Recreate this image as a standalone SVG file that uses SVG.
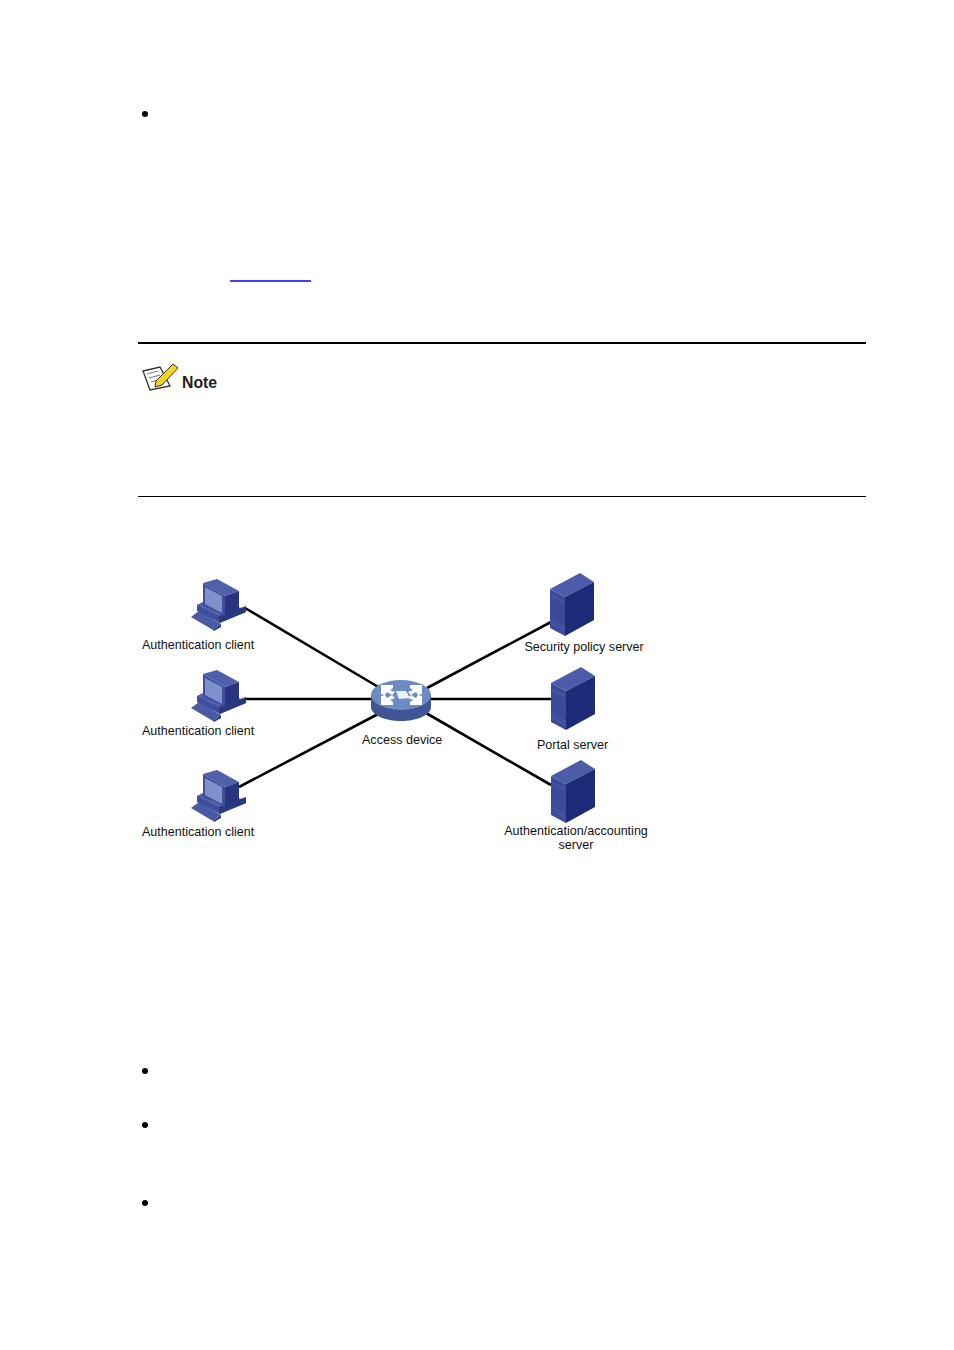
<svg xmlns="http://www.w3.org/2000/svg" width="954" height="1350" viewBox="0 0 954 1350">
<style>
.t{font-family:"Liberation Sans",Arial,sans-serif;font-size:12.55px;fill:#111}
.c{stroke:#000;stroke-width:2.6;fill:none}
</style>
<defs>
<g id="pc">
<path d="M191 617L199 611L221 624L213 630Z" fill="#4a5ba6"/>
<path d="M213 630L221 624L221 627L214 631Z" fill="#2c3a85"/>
<path d="M197 605L207 600L246 609L246 612L220 623L197 611Z" fill="#3f4f9e"/>
<path d="M197 605L207 601L232 610L219 616Z" fill="#5364ad"/>
<path d="M219 616L246 606L246 612L219 623Z" fill="#2b387f"/>
<path d="M203 583L217 579L239 591L225 596Z" fill="#4f60ab"/>
<path d="M203 583L225 596L225 616L203 606Z" fill="#3f4f9e"/>
<path d="M225 596L239 591L239 608L225 616Z" fill="#28367f"/>
<path d="M205 587L222 596L222 613L205 604Z" fill="#8090cd"/>
</g>
<g id="srv">
<path d="M550 589L580 573L594 582L565 597Z" fill="#4c5ca8"/>
<path d="M550 589L565 597L565 636L550 628Z" fill="#3a4b9c"/>
<path d="M565 597L594 582L594 620L565 636Z" fill="#1d2a78"/>
<path d="M550 595L565 603M550 620L565 628M550 623L565 631" stroke="#5a6ab2" stroke-width=".7" fill="none"/>
</g>
</defs>
<g id="page-marks">
<circle cx="145" cy="114" r="3" fill="#000"/>
<path d="M230 281H311" stroke="#0000ff" stroke-width="1.6"/>
<path d="M138 343H866" stroke="#000" stroke-width="2"/>
<path d="M138 496.500H866" stroke="#000" stroke-width="1"/>
<circle cx="145" cy="1071" r="3" fill="#000"/>
<circle cx="145" cy="1125" r="3" fill="#000"/>
<circle cx="145" cy="1203" r="3" fill="#000"/>
</g>
<g id="note">
<path d="M143 371L160 367L170 386L150 390Z" fill="#fff" stroke="#333" stroke-width="1.3"/>
<path d="M147 374L158 371M149 378L160 375M151 382L158 380" stroke="#777" stroke-width="1"/>
<path d="M156 381L173 364L178 368L162 385L155 387Z" fill="#f4d61c" stroke="#333" stroke-width="1"/>
<text x="182" y="388" style="font-family:'Liberation Sans',Arial,sans-serif;font-size:15.800px;font-weight:700;fill:#222">Note</text>
</g>
<g id="connectors">
<path class="c" d="M245 608L380 688"/>
<path class="c" d="M245 699H372"/>
<path class="c" d="M239 787L380 713"/>
<path class="c" d="M427 688L551 622"/>
<path class="c" d="M431 699H551"/>
<path class="c" d="M426 713L551 785"/>
</g>
<g id="client-1"><use href="#pc"/><text class="t" x="142" y="649">Authentication client</text></g>
<g id="client-2"><use href="#pc" y="91"/><text class="t" x="142" y="735">Authentication client</text></g>
<g id="client-3"><use href="#pc" y="191"/><text class="t" x="142" y="836">Authentication client</text></g>
<g id="access-device">
<path d="M371 695V707C371 715 385 721 401 721C417 721 431 715 431 707V695Z" fill="#3f5596"/>
<ellipse cx="401" cy="695" rx="30" ry="15" fill="#6d8ac3"/>
<g fill="#fff">
<path d="M381 685H393V688L390 690L395 692L392 695L387 692L385 695L381 694Z"/>
<path d="M422 685H410V688L413 690L408 692L411 695L416 692L418 695L422 694Z"/>
<path d="M381 705H393V702L390 700L395 698L392 695L387 698L385 695L381 696Z"/>
<path d="M422 705H410V702L413 700L408 698L411 695L416 698L418 695L422 696Z"/>
<path d="M396 691H406L410 698L399 699Z" fill="#eef2fa"/>
</g>
<text class="t" x="362" y="744">Access device</text>
</g>
<g id="security-policy-server"><use href="#srv"/><text class="t" x="524.500" y="651">Security policy server</text></g>
<g id="portal-server"><use href="#srv" x="1" y="94"/><text class="t" x="537" y="749">Portal server</text></g>
<g id="auth-server"><use href="#srv" x="1" y="187"/><text class="t" x="576" y="835" text-anchor="middle">Authentication/accounting</text><text class="t" x="576" y="849" text-anchor="middle">server</text></g>
</svg>
